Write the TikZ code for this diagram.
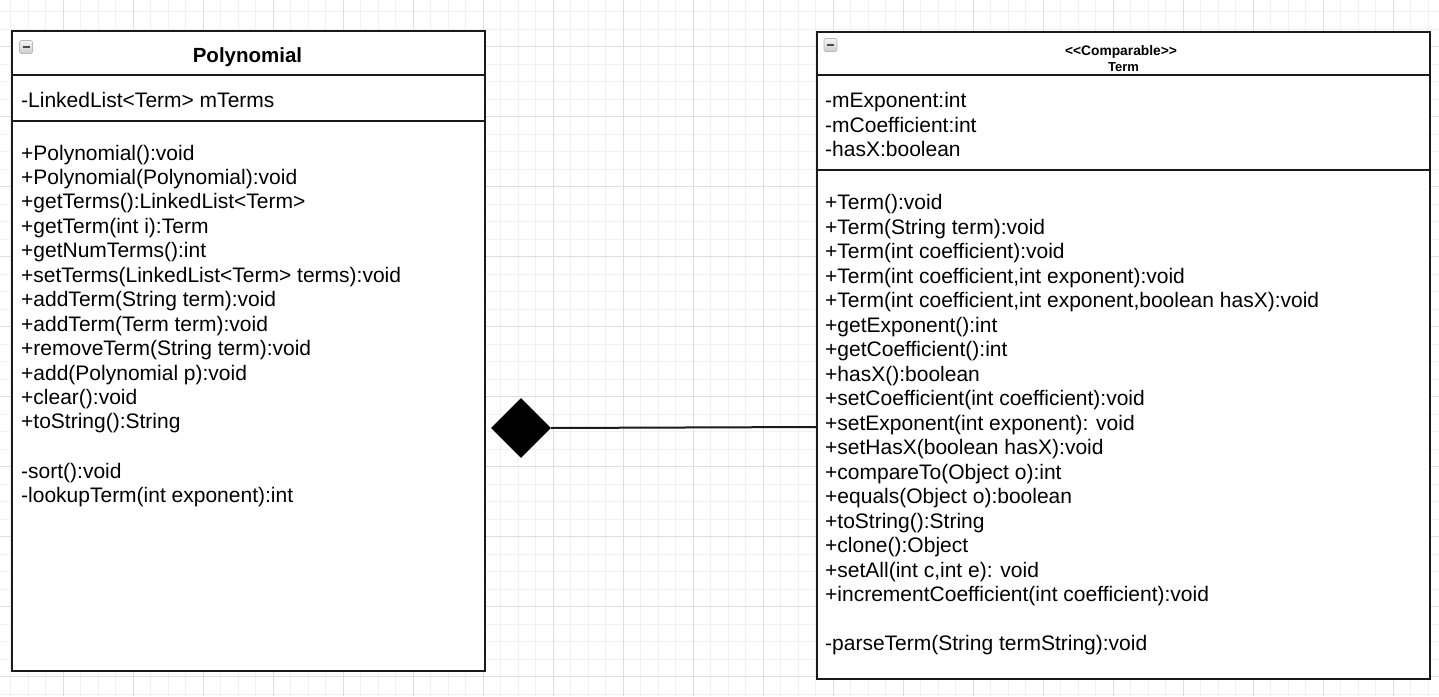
\documentclass[tikz,border=0pt]{standalone}
\usepackage{fontspec}
\setmainfont{Liberation Sans}
\usetikzlibrary{shapes.geometric}
\definecolor{gridminor}{HTML}{F1F1F1}
\definecolor{gridmajor}{HTML}{DEDEDE}
\definecolor{ink}{HTML}{1A1A1A}
\newcommand\bodyfont{\fontsize{21}{24.5}\selectfont}
\newcommand\titlefont{\fontsize{20.5}{24.5}\selectfont\bfseries}
\newcommand\stereofont{\fontsize{13.8}{16}\selectfont\bfseries}
\newcommand\namefont{\fontsize{13}{16}\selectfont\bfseries}
\tikzset{
  classbox/.style={draw=ink, line width=2pt, fill=white, anchor=north west, inner sep=0pt},
  divider/.style={draw=ink, line width=2pt},
  txt/.style={anchor=base west, inner sep=0pt, font=\bodyfont, text=black},
  icon/.style={draw=gray!55, line width=0.6pt, rounded corners=1.5pt, top color=gray!8, bottom color=gray!40, minimum size=13pt, inner sep=0pt},
  iconbar/.style={line width=2.4pt, draw=black!70},
  compdia/.style={diamond, fill=black, minimum width=60pt, minimum height=60pt, inner sep=0pt, aspect=1},
  conn/.style={draw=ink, line width=2pt}
}
\begin{document}
\begin{tikzpicture}[x=1pt,y=-1pt]
\useasboundingbox (0,0) rectangle (1439,696);
\fill[white] (0,0) rectangle (1439,696);
% grid
\foreach \x in {10.8,28.3,...,1439} \draw[gridminor, line width=0.8pt] (\x,0) -- (\x,696);
\foreach \y in {11.7,29.2,...,696} \draw[gridminor, line width=0.8pt] (0,\y) -- (1439,\y);
\foreach \x in {63.3,133.3,...,1439} \draw[gridmajor, line width=1pt] (\x,0) -- (\x,696);
\foreach \y in {46.7,116.7,...,696} \draw[gridmajor, line width=1pt] (0,\y) -- (1439,\y);

% ---------- Polynomial ----------
\node[classbox, minimum width=473pt, minimum height=640pt] (poly) at (11,30) {};
\draw[divider] (poly.west |- 0,75) -- (poly.east |- 0,75);
\draw[divider] (poly.west |- 0,121) -- (poly.east |- 0,121);
\node[icon] (picon) at (26,47) {};
\draw[iconbar] ([xshift=-3.5pt]picon.center) -- ([xshift=3.5pt]picon.center);
\node[anchor=base, inner sep=0pt, font=\titlefont] (ptitle) at (247.5,62) {Polynomial};
\node[txt] (pattr) at (21,107.5) {-LinkedList<Term> mTerms};
\foreach \t [count=\i] in {
  {+Polynomial():void},
  {+Polynomial(Polynomial):void},
  {+getTerms():LinkedList<Term>},
  {+getTerm(int i):Term},
  {+getNumTerms():int},
  {+setTerms(LinkedList<Term> terms):void},
  {+addTerm(String term):void},
  {+addTerm(Term term):void},
  {+removeTerm(String term):void},
  {+add(Polynomial p):void},
  {+clear():void},
  {+toString():String}}
  \node[txt] (pm\i) at (21,{160+24.45*(\i-1)}) {\t};
\foreach \t [count=\i] in {{-sort():void},{-lookupTerm(int exponent):int}}
  \node[txt] (pp\i) at (21,{478+24.45*(\i-1)}) {\t};

% ---------- Term ----------
\node[classbox, minimum width=613pt, minimum height=647pt] (term) at (816,31) {};
\draw[divider] (term.west |- 0,75) -- (term.east |- 0,75);
\draw[divider] (term.west |- 0,170) -- (term.east |- 0,170);
\node[icon] (ticon) at (830.5,45) {};
\draw[iconbar] ([xshift=-3.5pt]ticon.center) -- ([xshift=3.5pt]ticon.center);
\node[anchor=base, inner sep=0pt, font=\stereofont] (tstereo) at (1121,55.3) {<\kern0pt<Comparable>\kern0pt>};
\node[anchor=base, inner sep=0pt, font=\namefont] (tname) at (1123.5,71) {Term};
\foreach \t [count=\i] in {{-mExponent:int},{-mCoefficient:int},{-hasX:boolean}}
  \node[txt] (ta\i) at (825,{107.5+24.5*(\i-1)}) {\t};
\foreach \t [count=\i] in {
  {+Term():void},
  {+Term(String term):void},
  {+Term(int coefficient):void},
  {+Term(int coefficient,int exponent):void},
  {+Term(int coefficient,int exponent,boolean hasX):void},
  {+getExponent():int},
  {+getCoefficient():int},
  {+hasX():boolean},
  {+setCoefficient(int coefficient):void},
  {+setExponent(int exponent): void},
  {+setHasX(boolean hasX):void},
  {+compareTo(Object o):int},
  {+equals(Object o):boolean},
  {+toString():String},
  {+clone():Object},
  {+setAll(int c,int e): void},
  {+incrementCoefficient(int coefficient):void}}
  \node[txt] (tm\i) at (825,{209.5+24.5*(\i-1)}) {\t};
\node[txt] (tp1) at (825,650.5) {-parseTerm(String termString):void};

% ---------- composition ----------
\node[compdia] (dia) at (521,428) {};
\coordinate (tend) at (term.west |- 0,427);
\draw[conn] (dia.east) -- (tend);
\end{tikzpicture}
\end{document}
